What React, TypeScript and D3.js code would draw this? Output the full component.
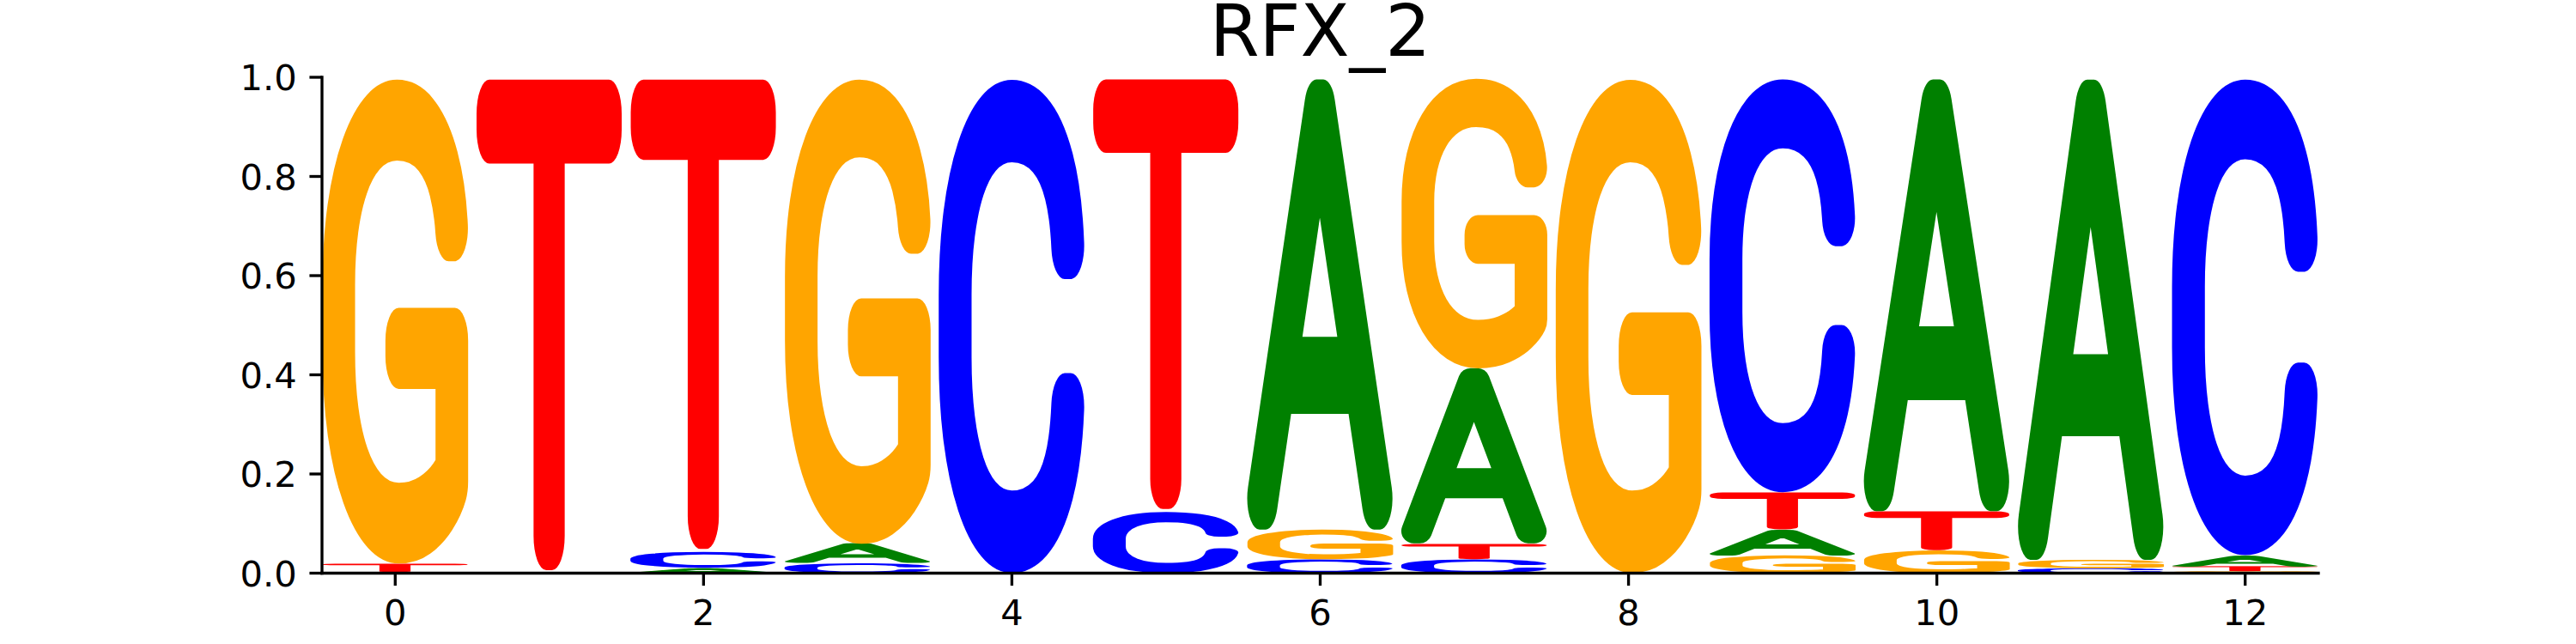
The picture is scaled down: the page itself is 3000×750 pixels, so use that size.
import { useMemo } from 'react';
import * as d3 from 'd3';

// sequence logo values (probabilities), one entry per position
const positions = [0, 1, 2, 3, 4, 5, 6, 7, 8, 9, 10, 11, 12];
const probA = [0.001, 0.0, 0.011, 0.039, 0.0, 0.0, 0.912, 0.354, 0.0, 0.052, 0.875, 0.973, 0.022];
const probC = [0.001, 0.0, 0.032, 0.020, 1.0, 0.124, 0.028, 0.028, 0.0, 0.837, 0.0, 0.010, 0.964];
const probG = [0.981, 0.0, 0.0, 0.941, 0.0, 0.0, 0.060, 0.587, 1.0, 0.036, 0.046, 0.017, 0.004];
const probT = [0.017, 1.0, 0.957, 0.0, 0.0, 0.876, 0.0, 0.031, 0.0, 0.075, 0.079, 0.0, 0.010];

const xTicks = [0, 2, 4, 6, 8, 10, 12];
const yTicks = [0, 0.2, 0.4, 0.6, 0.8, 1.0];
const title = 'RFX_2';

const W = 3000;
const H = 750;
const FONT = '"DejaVu Sans"';
// rounded bold look: a thin font with a thick round-joined outline
const GLYPH_FONT = 'Roboto';
const GLYPH_WEIGHT = 100;
const GLYPH_STROKE = 0.115; // em
const GLYPH_WIDTH = 0.95;
const MEASURE_SIZE = 200;

const colors: Record<string, string> = {
    A: 'rgb(0,128,0)',
    C: 'rgb(0,0,255)',
    G: 'rgb(255,165,0)',
    T: 'rgb(255,0,0)',
};

// tight ink box of a glyph incl. its outline, measured on a canvas
function measureInk(ch: string) {
    const ctx = document.createElement('canvas').getContext('2d')!;
    ctx.font = `${GLYPH_WEIGHT} ${MEASURE_SIZE}px ${GLYPH_FONT}`;
    const m = ctx.measureText(ch);
    const half = (GLYPH_STROKE * MEASURE_SIZE) / 2;
    return {
        x0: -m.actualBoundingBoxLeft - half,
        x1: m.actualBoundingBoxRight + half,
        y0: -m.actualBoundingBoxAscent - half,
        y1: m.actualBoundingBoxDescent + half,
    };
}

const App = () => {
    const left = 375, right = 2700, top = 90, bottom = 667.5;
    const pt = 300 / 72; // px per point at 300 dpi

    const x = d3.scaleLinear().domain([-0.475, 12.475]).range([left, right]);
    const y = d3.scaleLinear().domain([0, 1]).range([bottom, top]);

    const ink = useMemo(() => {
        const out: Record<string, ReturnType<typeof measureInk>> = {};
        ['A', 'C', 'G', 'T'].forEach(ch => (out[ch] = measureInk(ch)));
        return out;
    }, []);

    // stack letters per position, smallest at the bottom
    const glyphs = positions.flatMap((p, i) => {
        const vals = [
            { ch: 'A', v: probA[i] },
            { ch: 'C', v: probC[i] },
            { ch: 'G', v: probG[i] },
            { ch: 'T', v: probT[i] },
        ].filter(d => d.v > 0).sort((a, b) => a.v - b.v);
        let floor = 0;
        return vals.map(d => {
            const g = { p, ch: d.ch, lo: floor, hi: floor + d.v };
            floor += d.v;
            return g;
        });
    });

    const tickLen = 3.5 * pt;
    const tickPad = 3.5 * pt;
    const lw = 0.8 * pt;
    const tickFs = 10 * pt;

    return (
        <>
            <style>{'body{margin:0}'}</style>
            <svg width={W} height={H} style={{ display: 'block' }} fontFamily={FONT}>
                <rect width={W} height={H} fill="#fff" />
                {glyphs.map((g, k) => {
                    const m = ink[g.ch];
                    const x0 = x(g.p - GLYPH_WIDTH / 2);
                    const x1 = x(g.p + GLYPH_WIDTH / 2);
                    const yTop = y(g.hi);
                    const yBot = y(g.lo);
                    const sx = (x1 - x0) / (m.x1 - m.x0);
                    const sy = (yBot - yTop) / (m.y1 - m.y0);
                    return (
                        <text
                            key={k}
                            fontFamily={GLYPH_FONT}
                            fontSize={MEASURE_SIZE}
                            fontWeight={GLYPH_WEIGHT}
                            fill={colors[g.ch]}
                            stroke={colors[g.ch]}
                            strokeWidth={GLYPH_STROKE * MEASURE_SIZE}
                            strokeLinejoin="round"
                            strokeLinecap="round"
                            transform={`translate(${x0},${yTop}) scale(${sx},${sy}) translate(${-m.x0},${-m.y0})`}
                        >
                            {g.ch}
                        </text>
                    );
                })}

                {/* spines */}
                <line x1={left} x2={left} y1={top} y2={bottom} stroke="#000" strokeWidth={lw} strokeLinecap="square" />
                <line x1={left} x2={right} y1={bottom} y2={bottom} stroke="#000" strokeWidth={lw} strokeLinecap="square" />

                {/* y axis */}
                {yTicks.map(t => (
                    <g key={t}>
                        <line x1={left - tickLen} x2={left} y1={y(t)} y2={y(t)} stroke="#000" strokeWidth={lw} />
                        <text x={left - tickLen - tickPad} y={y(t) + 0.364 * tickFs} fontSize={tickFs} textAnchor="end">
                            {d3.format('.1f')(t)}
                        </text>
                    </g>
                ))}

                {/* x axis */}
                {xTicks.map(t => (
                    <g key={t}>
                        <line x1={x(t)} x2={x(t)} y1={bottom} y2={bottom + tickLen} stroke="#000" strokeWidth={lw} />
                        <text x={x(t)} y={bottom + tickLen + tickPad + 0.76 * tickFs} fontSize={tickFs} textAnchor="middle">
                            {t}
                        </text>
                    </g>
                ))}

                <text x={(left + right) / 2} y={top - 6 * pt} fontSize={20 * pt} textAnchor="middle">
                    {title}
                </text>
            </svg>
        </>
    );
};

export default App;
